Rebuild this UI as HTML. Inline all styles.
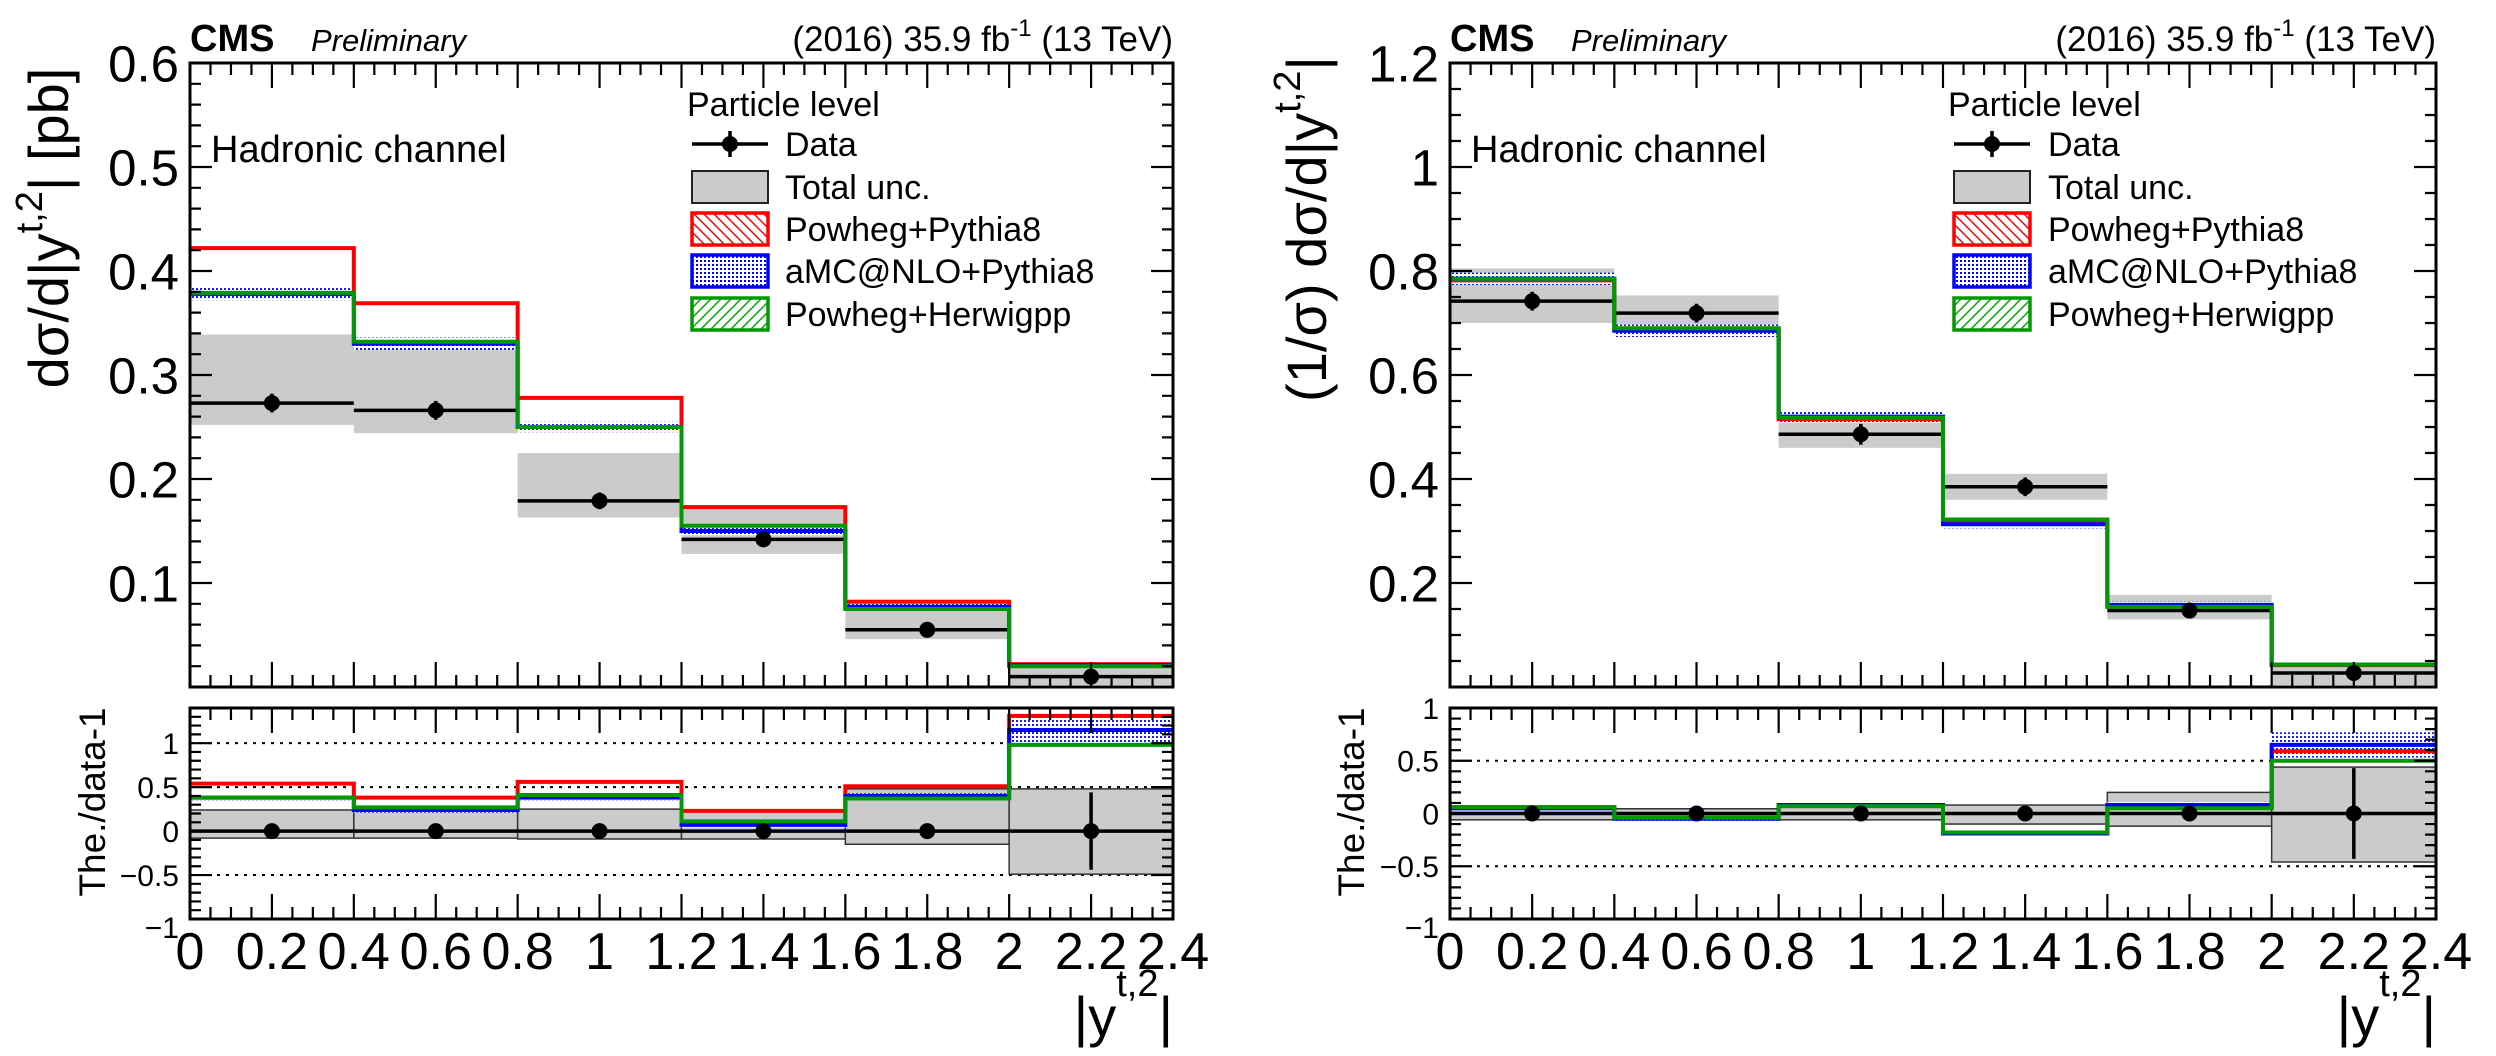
<!DOCTYPE html>
<html><head><meta charset="utf-8"><style>
html,body{margin:0;padding:0;background:#fff;}
svg{display:block;font-family:"Liberation Sans",Arial,sans-serif;}
</style></head><body>
<svg id="chart" width="2496" height="1056" viewBox="0 0 2496 1056" xmlns="http://www.w3.org/2000/svg">
<defs>
<pattern id="hatchRed" patternUnits="userSpaceOnUse" width="10" height="10"><path d="M0,0 L10,10 M-5,5 L5,15 M5,-5 L15,5" stroke="#f00" stroke-width="1.5"/></pattern>
<pattern id="hatchGreen" patternUnits="userSpaceOnUse" width="10" height="10"><path d="M0,10 L10,0 M-5,5 L5,-5 M5,15 L15,5" stroke="#0a0" stroke-width="1.5"/></pattern>
<pattern id="dotsBlue" patternUnits="userSpaceOnUse" width="4" height="4"><rect width="4" height="4" fill="#fff"/><rect x="0" y="0" width="2" height="2" fill="#00f"/></pattern>
</defs>
</svg>
<script>
// ---- data ----
const binEdges = [0, 0.4, 0.8, 1.2, 1.6, 2.0, 2.4];
const xTickLabels = ["0","0.2","0.4","0.6","0.8","1","1.2","1.4","1.6","1.8","2","2.2","2.4"];

// Left: absolute
const absData = [0.273, 0.266, 0.179, 0.142, 0.055, 0.010];
const absDataErr = [0.009, 0.009, 0.008, 0.007, 0.003, 0.002];
const absUncLo = [0.252, 0.244, 0.163, 0.128, 0.046, 0.002];
const absUncHi = [0.339, 0.336, 0.225, 0.175, 0.084, 0.022];
const absPowPy = [0.422, 0.369, 0.278, 0.173, 0.082, 0.022];
const absAmc = [0.378, 0.330, 0.250, 0.150, 0.077, 0.021];
const absAmcErr = [0.006, 0.006, 0.005, 0.004, 0.003, 0.002];
const absPowHw = [0.379, 0.332, 0.250, 0.155, 0.075, 0.020];
const absYTicks = ["0.1","0.2","0.3","0.4","0.5","0.6"];

const absRatioDataErr = [0.03, 0.03, 0.04, 0.05, 0.06, 0.44];
const absRatioUncLo = [-0.08, -0.08, -0.09, -0.09, -0.15, -0.49];
const absRatioUncHi = [0.24, 0.24, 0.25, 0.24, 0.48, 0.48];
const absRatioPowPy = [0.54, 0.38, 0.56, 0.23, 0.51, 1.31];
const absRatioAmc = [0.38, 0.24, 0.38, 0.07, 0.40, 1.15];
const absRatioAmcErr = [0.03, 0.03, 0.03, 0.03, 0.03, 0.15];
const absRatioPowHw = [0.38, 0.27, 0.41, 0.11, 0.37, 0.98];
const absRatioYTicks = ["\u22121","\u22120.5","0","0.5","1"];

// Right: normalized
const normData = [0.742, 0.719, 0.486, 0.385, 0.147, 0.027];
const normDataErr = [0.018, 0.018, 0.02, 0.018, 0.01, 0.004];
const normUncLo = [0.700, 0.678, 0.460, 0.360, 0.130, 0.004];
const normUncHi = [0.805, 0.753, 0.515, 0.410, 0.177, 0.043];
const normPowPy = [0.782, 0.688, 0.515, 0.320, 0.155, 0.042];
const normAmc = [0.785, 0.685, 0.520, 0.313, 0.158, 0.043];
const normAmcErr = [0.012, 0.012, 0.012, 0.008, 0.006, 0.003];
const normPowHw = [0.785, 0.690, 0.518, 0.322, 0.154, 0.043];
const normYTicks = ["0.2","0.4","0.6","0.8","1","1.2"];

const normRatioDataErr = [0.03, 0.03, 0.04, 0.05, 0.06, 0.43];
const normRatioUncLo = [-0.06, -0.05, -0.06, -0.10, -0.12, -0.46];
const normRatioUncHi = [0.06, 0.045, 0.07, 0.08, 0.20, 0.44];
const normRatioPowPy = [0.06, -0.04, 0.07, -0.18, 0.06, 0.59];
const normRatioAmc = [0.05, -0.05, 0.08, -0.19, 0.08, 0.65];
const normRatioAmcErr = [0.02, 0.02, 0.02, 0.02, 0.03, 0.12];
const normRatioPowHw = [0.06, -0.04, 0.07, -0.18, 0.05, 0.50];
const normRatioYTicks = ["\u22121","\u22120.5","0","0.5","1"];

const svg = document.getElementById('chart');
const NS = 'http://www.w3.org/2000/svg';
function mk(tag, attrs, parent, text){
  const e = document.createElementNS(NS, tag);
  for (const k in attrs) e.setAttribute(k, attrs[k]);
  if (text !== undefined) e.textContent = text;
  (parent || svg).appendChild(e);
  return e;
}

function stepPath(vals, X, Y){
  let d = 'M' + X(binEdges[0]) + ',' + Y(vals[0]);
  for (let i = 0; i < vals.length; i++){
    if (i > 0) d += ' V' + Y(vals[i]);
    d += ' H' + X(binEdges[i+1]);
  }
  return d;
}

function drawPad(o){
  const g = mk('g', {}, svg);
  
  
  const X = v => o.x0 + (v - 0) / 2.4 * (o.x1 - o.x0);
  const Y = v => o.yb - (v - o.ymin) / (o.ymax - o.ymin) * (o.yb - o.yt);
  const clipId = o.name + '-clip';
  const cp = mk('clipPath', {id: clipId}, g);
  mk('rect', {x: o.x0, y: o.yt, width: o.x1 - o.x0, height: o.yb - o.yt}, cp);
  const inner = mk('g', {'clip-path': 'url(#' + clipId + ')'}, g);
  (o.dotted || []).forEach(v => {
    const l = mk('line', {x1: o.x0, x2: o.x1, y1: Y(v), y2: Y(v), stroke: '#000', 'stroke-width': 2, 'stroke-dasharray': '3,6'}, inner);
    
    
  });
  for (let i = 0; i < 6; i++){
    const r = mk('rect', {x: X(binEdges[i]), y: Y(o.uncHi[i]), width: X(binEdges[i+1]) - X(binEdges[i]), height: Y(o.uncLo[i]) - Y(o.uncHi[i]), fill: '#cbcbcb', stroke: o.ratio ? '#333' : 'none', 'stroke-width': 1.5}, inner);
    
    
  }
  for (let i = 0; i < 6; i++){
    const v = o.ratio ? 0 : o.data[i];
    const l = mk('line', {x1: X(binEdges[i]), x2: X(binEdges[i+1]), y1: Y(v), y2: Y(v), stroke: '#000', 'stroke-width': 3.5}, inner);
    
    
  }
  for (let i = 0; i < 6; i++){
    const r = mk('rect', {x: X(binEdges[i]), y: Y(o.amc[i] + o.amcErr[i]), width: X(binEdges[i+1]) - X(binEdges[i]), height: Y(o.amc[i] - o.amcErr[i]) - Y(o.amc[i] + o.amcErr[i]), fill: 'url(#dotsBlue)', opacity: 0.9}, inner);
    
    
  }
  const pp = mk('path', {d: stepPath(o.powpy, X, Y), fill: 'none', stroke: '#f00', 'stroke-width': 4}, inner);
  
  
  const am = mk('path', {d: stepPath(o.amc, X, Y), fill: 'none', stroke: '#00f', 'stroke-width': 4}, inner);
  
  
  const hw = mk('path', {d: stepPath(o.powhw, X, Y), fill: 'none', stroke: '#090', 'stroke-width': 4}, inner);
  
  
  for (let i = 0; i < 6; i++){
    const xc = X((binEdges[i] + binEdges[i+1]) / 2);
    const v = o.ratio ? 0 : o.data[i];
    const eb = mk('line', {x1: xc, x2: xc, y1: Y(v + o.dataErr[i]), y2: Y(v - o.dataErr[i]), stroke: '#000', 'stroke-width': 3.5}, inner);
    
    
    const c = mk('circle', {cx: xc, cy: Y(v), r: 8, fill: '#000'}, inner);
    
    
  }
  const fr = mk('rect', {x: o.x0, y: o.yt, width: o.x1 - o.x0, height: o.yb - o.yt, fill: 'none', stroke: '#000', 'stroke-width': 3}, g);
  
  
  let td = '';
  for (let k = 0; k <= 48; k++){
    const v = k * 0.05, x = X(v);
    const L = (k % 4 === 0) ? 25 : 12;
    td += 'M' + x + ',' + o.yb + 'v' + (-L) + 'M' + x + ',' + o.yt + 'v' + L;
  }
  const n = Math.round((o.ymax - o.ymin) / o.minor);
  for (let k = 0; k <= n; k++){
    const v = o.ymin + k * o.minor, y = Y(v);
    const isMaj = Math.abs(Math.round(v / o.major) * o.major - v) < 1e-6;
    const L = isMaj ? 22 : 11;
    td += 'M' + o.x0 + ',' + y + 'h' + L + 'M' + o.x1 + ',' + y + 'h' + (-L);
  }
  const tk = mk('path', {d: td, stroke: '#000', 'stroke-width': 2.2, fill: 'none'}, g);
  
  
  o.yLabels.forEach((s, i) => {
    const v = o.yLabelStart + i * o.major;
    const t = mk('text', {x: o.x0 - 11, y: Y(v) + o.yfs * 0.36 + (i === 0 && o.ratio ? 8 : 0), 'text-anchor': 'end', 'font-size': o.yfs}, g, s);
    
    
  });
  if (o.xlabels){
    xTickLabels.forEach((s, i) => {
      const t = mk('text', {x: X(i * 0.2), y: 969, 'text-anchor': 'middle', 'font-size': 52}, g, s);
      
      
    });
  }
  return {X, Y};
}

function panel(px, L, name){
  const x0 = px.x0, x1 = px.x1;
  drawPad({name: name + '-main', x0, x1, yt: 63, yb: 687, ymin: 0, ymax: L.ymax, major: L.major, minor: L.minor,
    yLabels: L.yticks, yLabelStart: L.major, yfs: 51, data: L.data, dataErr: L.dataErr, uncLo: L.uncLo, uncHi: L.uncHi,
    powpy: L.powpy, amc: L.amc, amcErr: L.amcErr, powhw: L.powhw, ratio: false});
  drawPad({name: name + '-ratio', x0, x1, yt: 708, yb: 919, ymin: -1, ymax: L.rmax, major: 0.5, minor: 0.1,
    yLabels: L.rticks, yLabelStart: -1, yfs: 30, dataErr: L.rErr, uncLo: L.rLo, uncHi: L.rHi,
    powpy: L.rpp, amc: L.ramc, amcErr: L.ramcErr, powhw: L.rhw, ratio: true, dotted: L.dotted, xlabels: true});
}

panel({x0: 190, x1: 1173}, {ymax: 0.6, major: 0.1, minor: 0.02, yticks: absYTicks, data: absData, dataErr: absDataErr,
  uncLo: absUncLo, uncHi: absUncHi, powpy: absPowPy, amc: absAmc, amcErr: absAmcErr, powhw: absPowHw,
  rmax: 1.4, rticks: absRatioYTicks, rErr: absRatioDataErr, rLo: absRatioUncLo, rHi: absRatioUncHi,
  rpp: absRatioPowPy, ramc: absRatioAmc, ramcErr: absRatioAmcErr, rhw: absRatioPowHw, dotted: [-0.5, 0.5, 1]}, 'left-panel');

panel({x0: 1450, x1: 2436}, {ymax: 1.2, major: 0.2, minor: 0.05, yticks: normYTicks, data: normData, dataErr: normDataErr,
  uncLo: normUncLo, uncHi: normUncHi, powpy: normPowPy, amc: normAmc, amcErr: normAmcErr, powhw: normPowHw,
  rmax: 1.0, rticks: normRatioYTicks, rErr: normRatioDataErr, rLo: normRatioUncLo, rHi: normRatioUncHi,
  rpp: normRatioPowPy, ramc: normRatioAmc, ramcErr: normRatioAmcErr, rhw: normRatioPowHw, dotted: [-0.5, 0.5]}, 'right-panel');

function legend(lx, bx, tx, pfx){
  const g = mk('g', {}, svg);
  
  
  mk('text', {x: lx, y: 116, 'font-size': 34}, g, 'Particle level');
  const items = [
    ['Data', 'data'], ['Total unc.', 'unc'], ['Powheg+Pythia8', 'pp'], ['aMC@NLO+Pythia8', 'amc'], ['Powheg+Herwigpp', 'hw']
  ];
  const base = [156, 199, 241, 283, 326];
  items.forEach((it, i) => {
    const e = mk('g', {}, g);
    
    
    const cy = base[i] - 12;
    if (it[1] === 'data'){
      mk('line', {x1: bx, x2: bx + 76, y1: cy, y2: cy, stroke: '#000', 'stroke-width': 3.5}, e);
      mk('line', {x1: bx + 38, x2: bx + 38, y1: cy - 13, y2: cy + 13, stroke: '#000', 'stroke-width': 3.5}, e);
      mk('circle', {cx: bx + 38, cy: cy, r: 8, fill: '#000'}, e);
    } else {
      const fill = {unc: '#cbcbcb', pp: 'url(#hatchRed)', amc: 'url(#dotsBlue)', hw: 'url(#hatchGreen)'}[it[1]];
      const st = {unc: '#222', pp: '#f00', amc: '#00f', hw: '#090'}[it[1]];
      mk('rect', {x: bx, y: cy - 16, width: 76, height: 32, fill: fill, stroke: st, 'stroke-width': it[1] === 'unc' ? 2 : 3.5}, e);
    }
    mk('text', {x: tx, y: base[i], 'font-size': 34}, e, it[0]);
  });
}
legend(687, 692, 785, 'left');
legend(1948, 1954, 2048, 'right');

function header(x0, x1, px, pfx){
  const c = mk('text', {x: x0, y: 51, 'font-size': 38, 'font-weight': 'bold'}, svg, 'CMS');
  
  
  const p = mk('text', {x: px, y: 51, 'font-size': 31, 'font-style': 'italic'}, svg, 'Preliminary');
  
  
  const l = mk('text', {x: x1, y: 51, 'font-size': 35, 'text-anchor': 'end'}, svg);
  
  
  mk('tspan', {}, l, '(2016) 35.9 fb');
  mk('tspan', {dy: -15, 'font-size': 24}, l, '-1');
  mk('tspan', {dy: 15}, l, ' (13 TeV)');
  const h = mk('text', {x: x0 + 21, y: 162, 'font-size': 38}, svg, 'Hadronic channel');
  
  
  const xt = mk('text', {x: x1, y: 1036, 'font-size': 56, 'text-anchor': 'end'}, svg);
  
  
  mk('tspan', {}, xt, '|y');
  mk('tspan', {dy: -40, 'font-size': 38}, xt, 't,2');
  mk('tspan', {dy: 40}, xt, '|');
}
header(190, 1173, 311, 'left');
header(1450, 2436, 1571, 'right');

let t = mk('text', {transform: 'translate(68,228) rotate(-90)', 'text-anchor': 'middle', 'font-size': 56}, svg);


mk('tspan', {}, t, 'd\u03c3/d|y');
mk('tspan', {dy: -26, 'font-size': 38}, t, 't,2');
mk('tspan', {dy: 26}, t, '| [pb]');

t = mk('text', {transform: 'translate(1326,229) rotate(-90)', 'text-anchor': 'middle', 'font-size': 56}, svg);


mk('tspan', {}, t, '(1/\u03c3) d\u03c3/d|y');
mk('tspan', {dy: -26, 'font-size': 38}, t, 't,2');
mk('tspan', {dy: 26}, t, '|');

t = mk('text', {transform: 'translate(105,802) rotate(-90)', 'text-anchor': 'middle', 'font-size': 37}, svg, 'The./data-1');


t = mk('text', {transform: 'translate(1364,802) rotate(-90)', 'text-anchor': 'middle', 'font-size': 37}, svg, 'The./data-1');


</script>
</body></html>
